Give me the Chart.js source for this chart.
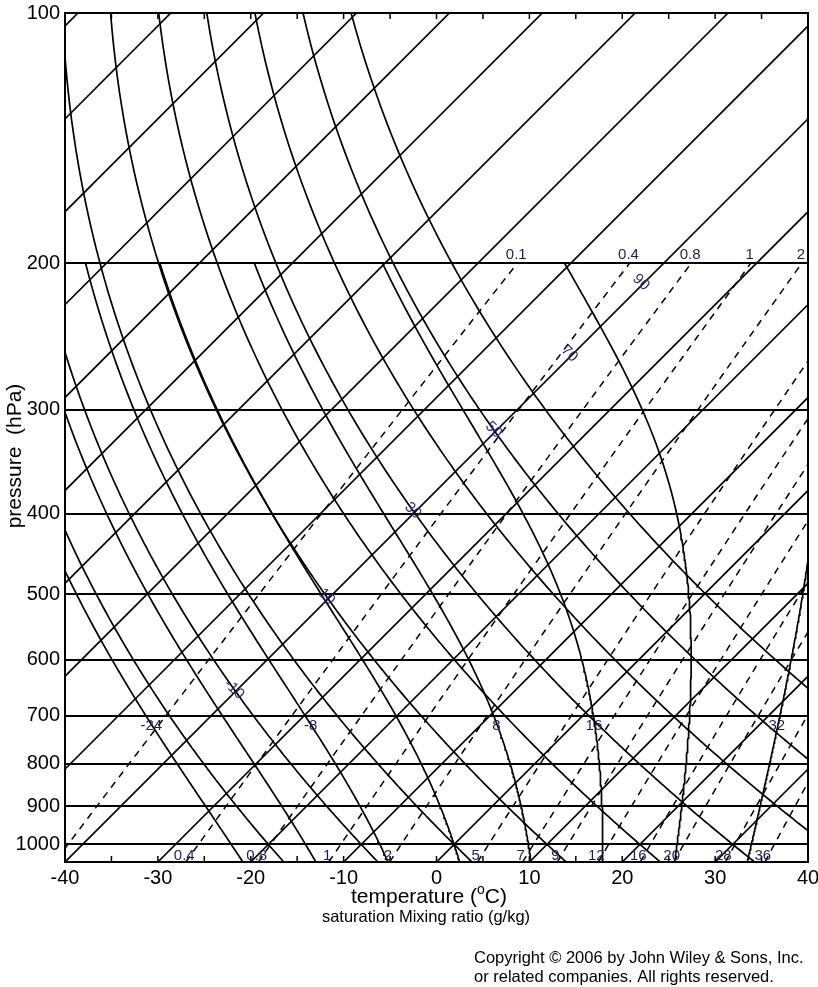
<!DOCTYPE html>
<html><head><meta charset="utf-8">
<script src="https://cdn.jsdelivr.net/npm/chart.js@4.4.1/dist/chart.umd.min.js"></script>
<style>html,body{margin:0;padding:0;background:#fff}canvas{display:block}</style>
</head><body>
<canvas id="c" width="818" height="987" style="width:818px;height:987px"></canvas>
<script>
// ---------------- data ----------------
const PRESSURE_TICKS = [100,200,300,400,500,600,700,800,900,1000];
const TEMP_TICKS = [-40,-30,-20,-10,0,10,20,30,40];
const TEMP_MINOR_TICKS = [-35,-30,-25,-20,-15,-10,-5,0,5,10,15,20,25,30,35];
const ISOTHERMS = [-130,-120,-110,-100,-90,-80,-70,-60,-50,-40,-30,-20,-10,0,10,20,30,40];
const DRY_ADIABATS = [-40,-30,-20,-10,0,10,20,30,40,50,60,70,80,90,100,110,120,130,140,150];
const MOIST_ADIABATS = [-40,-32,-24,-16,-8,0,8,16,24,32,40];
const MIXING_RATIOS = [0.1,0.4,0.8,1.5,2.5,5,7,9,12,16,20,28,36];
const MIX_LABELS_TOP_W = [0.1,0.4,0.8,1.5,2.5];
const MIX_LABELS_TOP_TXT = ['0.1','0.4','0.8','1','2'];
const MIX_LABELS_BOT_W = [0.4,0.8,1.5,2.5,5,7,9,12,16,20,28,36];
const MIX_LABELS_BOT_TXT = ['0.4','0.8','1','2','5','7','9','12','16','20','28','36'];
const MOIST_LABELS = [-24,-8,8,16,32];
const DRY_LABELS = [-10,10,30,50,70,90];

// ---------------- diagram geometry ----------------
const SKEW = 89.5;          // x shift (°C) per decade of pressure -> 45° isotherms
const P_BOTTOM = 1050, P_TOP = 100, P_MOIST_TOP = 200;
const FONT = '"Liberation Sans", Arial, Helvetica, sans-serif';
const LABEL_COLOR = '#241a52';
const THETA_COLOR = '#35287a';

const P_GRID = [];
for (let p = P_BOTTOM; p >= P_TOP; p -= 5) P_GRID.push(p);

function skewX(tc, p){ return tc + SKEW*Math.log10(P_BOTTOM/p); }
function dryT(thetaC, p){ return (thetaC+273.15)*Math.pow(p/1000,0.2857) - 273.15; }
function mixT(w, p){ const e = w*p/(622+w); const l = Math.log(e/6.112); return 243.5*l/(17.67-l); }
function moistProfile(tw){
  const Rd=287.04, Lv=2.501e6, cp=1005.7, eps=0.622;
  const f=(p,T)=>{const tc=T-273.15; const es=6.112*Math.exp(17.67*tc/(tc+243.5)); const rs=eps*es/(p-es);
    return (Rd*T+Lv*rs)/(p*(cp+Lv*Lv*rs*eps/(Rd*T*T)));};
  const rk=(p,T,h)=>{const k1=f(p,T),k2=f(p+h/2,T+h*k1/2),k3=f(p+h/2,T+h*k2/2),k4=f(p+h,T+h*k3);return T+h*(k1+2*k2+2*k3+k4)/6;};
  const out={}; let T=tw+273.15; out[1000]=T;
  for(let p=1000;p>P_MOIST_TOP;p-=5){T=rk(p,T,-5); out[p-5]=T;}
  T=tw+273.15; for(let p=1000;p<P_BOTTOM;p+=5){T=rk(p,T,5); out[p+5]=T;}
  return out;
}

const baseLine = {showLine:true, pointRadius:0, pointHoverRadius:0, borderColor:'#000', borderWidth:1.7, fill:false, tension:0, clip:0, parsing:false, normalized:true};
const datasets = [];
ISOTHERMS.forEach(t=>datasets.push(Object.assign({}, baseLine, {label:'T '+t,
  data:[{x:skewX(t,P_BOTTOM),y:P_BOTTOM},{x:skewX(t,P_TOP),y:P_TOP}]})));
DRY_ADIABATS.forEach(th=>datasets.push(Object.assign({}, baseLine, {label:'theta '+th,
  data:P_GRID.map(p=>({x:skewX(dryT(th,p),p),y:p}))})));
const MOIST_PROFILES = {};
MOIST_ADIABATS.forEach(tw=>{ const prof = moistProfile(tw); MOIST_PROFILES[tw]=prof;
  datasets.push(Object.assign({}, baseLine, {label:'thetaw '+tw,
  data:P_GRID.filter(p=>p>=P_MOIST_TOP).map(p=>({x:skewX(prof[p]-273.15,p),y:p}))}));});
MIXING_RATIOS.forEach(w=>datasets.push(Object.assign({}, baseLine, {label:'w '+w, borderWidth:1.5, borderDash:[7,6],
  data:P_GRID.filter(p=>p>=P_MOIST_TOP).map(p=>({x:skewX(mixT(w,p),p),y:p}))})));

const overlay = {
  id:'overlay',
  afterDatasetsDraw(chart){
    const {ctx, chartArea:a, scales:{x,y}} = chart;
    ctx.save();
    ctx.strokeStyle='#000'; ctx.lineWidth=2;
    ctx.strokeRect(a.left,a.top,a.right-a.left,a.bottom-a.top);
    ctx.lineWidth=1.5;
    TEMP_MINOR_TICKS.forEach(t=>{const px=x.getPixelForValue(t); ctx.beginPath();
      ctx.moveTo(px,a.bottom); ctx.lineTo(px,a.bottom-6); ctx.moveTo(px,a.top); ctx.lineTo(px,a.top+6); ctx.stroke();});
    // in-plot labels
    ctx.fillStyle=LABEL_COLOR; ctx.textAlign='center'; ctx.textBaseline='alphabetic';
    ctx.font='15px '+FONT;
    MIX_LABELS_TOP_W.forEach((w,i)=>{const p=200; const px=x.getPixelForValue(skewX(mixT(w,p),p));
      ctx.fillText(MIX_LABELS_TOP_TXT[i], px-1, y.getPixelForValue(p)-4);});
    MIX_LABELS_BOT_W.forEach((w,i)=>{const p=1040; const px=x.getPixelForValue(skewX(mixT(w,p),p));
      ctx.fillText(MIX_LABELS_BOT_TXT[i], px-4, a.bottom-2);});
    ctx.textBaseline='middle';
    MOIST_LABELS.forEach(tw=>{const p=720; const T=MOIST_PROFILES[tw][p]-273.15;
      ctx.fillText(String(tw), x.getPixelForValue(skewX(T,p))-1, y.getPixelForValue(p));});
    ctx.fillStyle=THETA_COLOR;
    DRY_LABELS.forEach(th=>{const tl=-40.4; const p=1000*Math.pow((tl+273.15)/(th+273.15),1/0.2857);
      const px=x.getPixelForValue(skewX(tl,p)), py=y.getPixelForValue(p);
      const p1=p*0.97,p2=p*1.03;
      const x1=x.getPixelForValue(skewX(dryT(th,p1),p1)), y1=y.getPixelForValue(p1);
      const x2=x.getPixelForValue(skewX(dryT(th,p2),p2)), y2=y.getPixelForValue(p2);
      ctx.save(); ctx.translate(px,py); ctx.rotate(0.8*Math.atan2(y2-y1,x2-x1)); ctx.fillText(String(th),0,0); ctx.restore();});
    ctx.restore();
  },
  afterDraw(chart){
    const {ctx} = chart;
    ctx.save(); ctx.fillStyle='#000'; ctx.textBaseline='alphabetic';
    // x title with superscript
    const big='21px '+FONT, small='14px '+FONT;
    ctx.font=big; const w1=ctx.measureText('temperature (').width, w3=ctx.measureText('C)').width;
    ctx.font=small; const w2=ctx.measureText('o').width;
    let sx=429-(w1+w2+w3)/2; const by=903;
    ctx.textAlign='left';
    ctx.font=big; ctx.fillText('temperature (',sx,by); sx+=w1;
    ctx.font=small; ctx.fillText('o',sx,by-9); sx+=w2;
    ctx.font=big; ctx.fillText('C)',sx,by);
    ctx.textAlign='center'; ctx.font='16.5px '+FONT;
    ctx.fillText('saturation Mixing ratio (g/kg)',426,922);
    // y title
    ctx.save(); ctx.translate(21,456); ctx.rotate(-Math.PI/2); ctx.font='21px '+FONT; ctx.textAlign='center';
    ctx.fillText('pressure  (hPa)',0,0); ctx.restore();
    // copyright
    ctx.textAlign='left'; ctx.font='16.5px '+FONT;
    ctx.fillText('Copyright \u00A9 2006 by John Wiley & Sons, Inc.',474,963);
    ctx.fillText('or related companies. All rights reserved.',474,982);
    ctx.restore();
  }
};

new Chart(document.getElementById('c'), {
  type:'scatter',
  data:{datasets},
  options:{
    responsive:false, animation:false, events:[],
    layout:{padding:{left:0,right:10,top:13,bottom:0}},
    plugins:{legend:{display:false}, tooltip:{enabled:false}, title:{display:false}},
    scales:{
      x:{type:'linear', min:-40, max:40, position:'bottom',
        grid:{display:false, drawTicks:false}, border:{display:false},
        ticks:{color:'#000', font:{size:20, family:FONT}, padding:4, maxRotation:0, autoSkip:false, callback:v=>String(v)},
        afterBuildTicks:s=>{s.ticks=TEMP_TICKS.map(v=>({value:v}));},
        afterFit:s=>{s.height=125; s.paddingLeft=0; s.paddingRight=0;}},
      y:{type:'logarithmic', reverse:true, min:P_TOP, max:P_BOTTOM, position:'left',
        grid:{color:'#000', lineWidth:2, drawTicks:false}, border:{display:false},
        ticks:{color:'#000', font:{size:20, family:FONT}, padding:5, autoSkip:false, callback:v=>String(v)},
        afterBuildTicks:s=>{s.ticks=PRESSURE_TICKS.map(v=>({value:v}));},
        afterFit:s=>{s.width=65; s.paddingTop=0; s.paddingBottom=0;}}
    }
  },
  plugins:[overlay]
});
</script>
</body></html>
